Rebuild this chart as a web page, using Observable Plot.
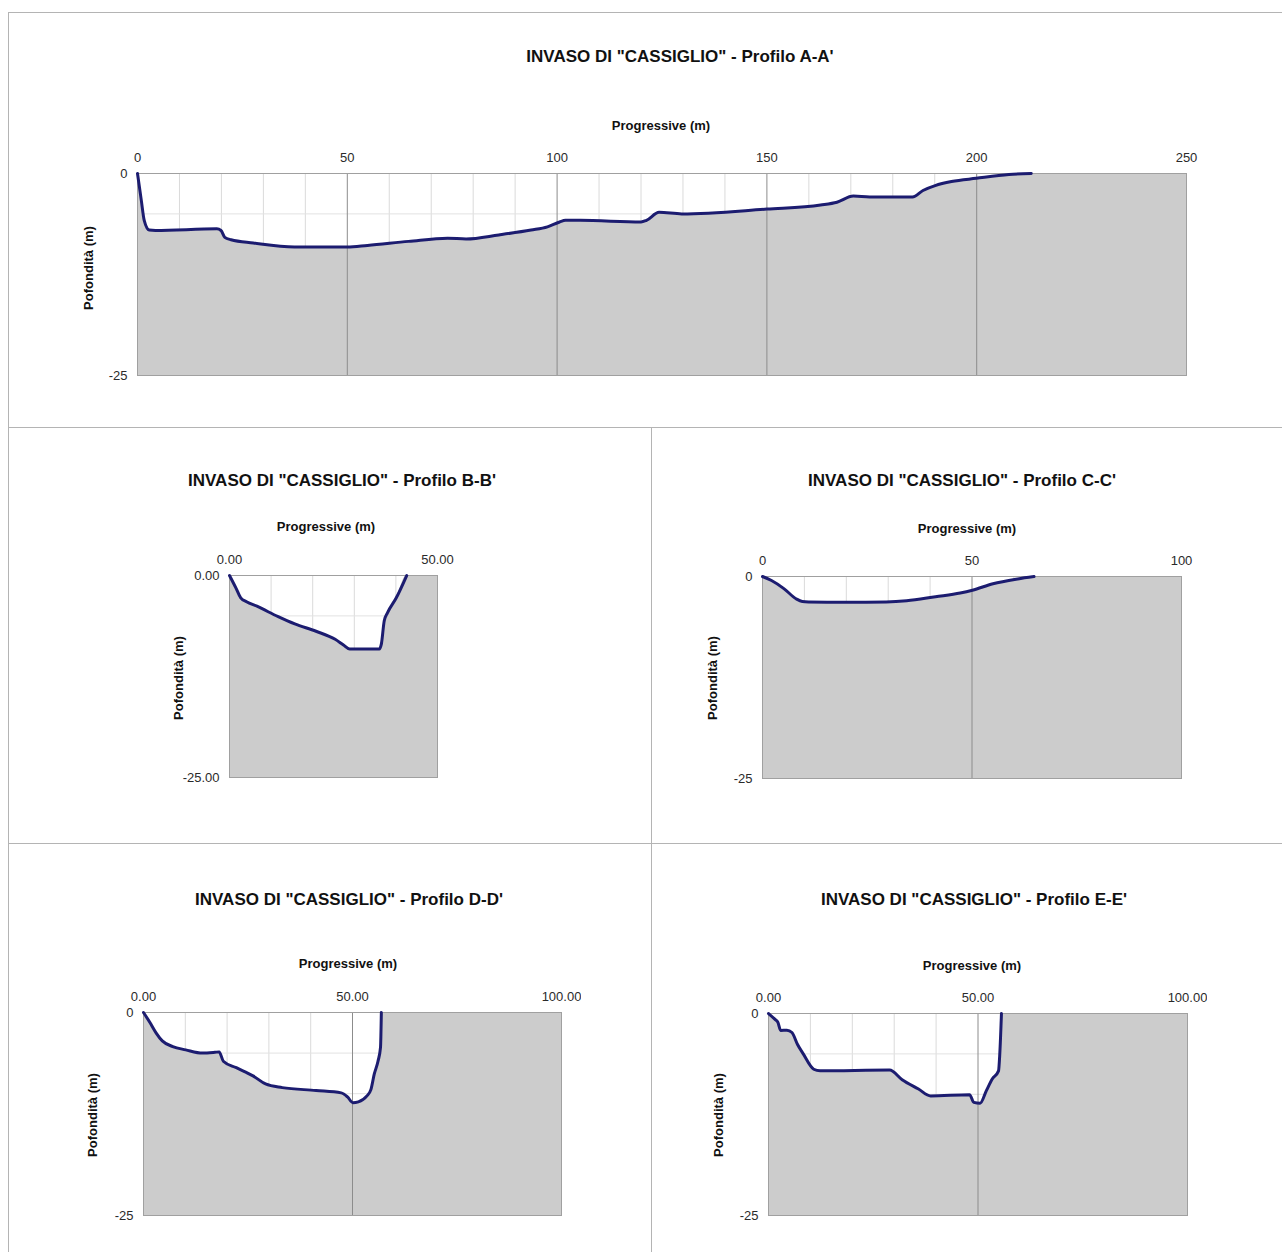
<!DOCTYPE html>
<html><head><meta charset="utf-8">
<script src="https://cdn.jsdelivr.net/npm/d3@7"></script>
<script src="https://cdn.jsdelivr.net/npm/@observablehq/plot@0.6"></script>
<style>
body{margin:0;background:#fff;}
#page{position:relative;width:1282px;height:1252px;font-family:"Liberation Sans",Arial,sans-serif;overflow:hidden;background:#fff}
.t{position:absolute;transform:translate(-50%,-50%);white-space:nowrap;font-weight:bold;color:#111}
.title{font-size:17px}
.ax{font-size:13px}
.yl{transform:translate(-50%,-50%) rotate(-90deg)}
.svgbox{position:absolute}
.ln{position:absolute;background:#b4b4b4}
</style></head>
<body><div id="page"></div>
<script>
// ---- data (progressive in m, depth in m) ----
const titles = [
  'INVASO DI "CASSIGLIO" - Profilo A-A\'',
  'INVASO DI "CASSIGLIO" - Profilo B-B\'',
  'INVASO DI "CASSIGLIO" - Profilo C-C\'',
  'INVASO DI "CASSIGLIO" - Profilo D-D\'',
  'INVASO DI "CASSIGLIO" - Profilo E-E\''
];
const xLabel = "Progressive (m)";
const yLabel = "Pofondità (m)";

const progA  = [0, 0.9, 1.6, 2.8, 4.3, 18.9, 19.9, 20.8, 22.3, 27.6, 37.4, 50, 54.8, 64.6, 73.9, 78.3, 86.1, 93.8, 97.7, 100.6, 102, 105.5, 120, 121.3, 124.3, 129.7, 150, 162.8, 166.7, 170.6, 174.5, 184.7, 187.2, 190.1, 194, 199.9, 207.7, 213];
const depthA = [0, -3.3, -5.8, -7.0, -7.05, -6.85, -7.05, -7.9, -8.2, -8.6, -9.1, -9.1, -8.9, -8.4, -8.0, -8.1, -7.6, -7.0, -6.6, -6.0, -5.8, -5.8, -6.0, -5.8, -4.8, -5.0, -4.4, -3.9, -3.55, -2.8, -2.9, -2.9, -2.1, -1.5, -1.0, -0.6, -0.13, 0];

const progB  = [0, 1.5, 2.7, 4.1, 6.6, 11.7, 15.7, 20.8, 25.4, 27.4, 28.9, 36, 36.5, 37.2, 38, 40.1, 42.6];
const depthB = [0, -1.5, -2.76, -3.25, -3.8, -5.1, -6.0, -6.9, -7.9, -8.6, -9.1, -9.1, -8.5, -5.6, -4.6, -2.76, 0];

const progC  = [0, 2.15, 5.1, 8.0, 9.5, 11.0, 19.8, 29.5, 34.4, 41.3, 47.2, 50.1, 55, 60.9, 64.8];
const depthC = [0, -0.5, -1.5, -2.75, -3.1, -3.15, -3.2, -3.15, -3.0, -2.5, -2.05, -1.7, -0.9, -0.3, 0];

const progD  = [0, 1.5, 3.0, 4.5, 7.0, 10.1, 14.1, 17.1, 18.1, 19.1, 22.2, 26.2, 29.2, 33.2, 41.3, 47.3, 48.8, 50.1, 51.4, 53.4, 54.4, 55.2, 56.1, 56.7, 56.9];
const depthD = [0, -1.2, -2.5, -3.5, -4.2, -4.6, -5.0, -4.9, -4.85, -6.0, -6.8, -7.8, -8.8, -9.25, -9.6, -9.9, -10.4, -11.1, -11.0, -10.3, -9.5, -7.6, -6.0, -4.3, 0];

const progE  = [0, 1.5, 2.25, 2.9, 4.4, 5.6, 6.9, 8.3, 10.8, 12.3, 28.9, 31.9, 35.8, 38.7, 48.0, 49.0, 50.5, 52.0, 53.4, 54.9, 55.2, 55.6];
const depthE = [0, -0.7, -1.1, -2.1, -2.06, -2.35, -3.8, -5.0, -6.9, -7.1, -7.0, -8.2, -9.35, -10.2, -10.05, -11.0, -11.1, -9.55, -8.1, -7.1, -5.0, 0];

// tick labels
const xTicksA = [0, 50, 100, 150, 200, 250];
const xTickLabelsA = ["0", "50", "100", "150", "200", "250"];
const xTicksB = [0, 50];
const xTickLabelsB = ["0.00", "50.00"];
const xTicksC = [0, 50, 100];
const xTickLabelsC = ["0", "50", "100"];
const xTicksDE = [0, 50, 100];
const xTickLabelsDE = ["0.00", "50.00", "100.00"];
const yTicks = [0, -25];
const yTickLabels = ["0", "-25"];
const yTickLabelsB = ["0.00", "-25.00"];

// ---- layout ----
const panels = [
  {prog: progA, depth: depthA, title: titles[0], xmax: 250, xt: xTicksA, xtl: xTickLabelsA, ytl: yTickLabels,
   box: [137, 1186, 173, 375], tpos: [680, 57], ppos: [661, 125], ypos: [88, 268]},
  {prog: progB, depth: depthB, title: titles[1], xmax: 50, xt: xTicksB, xtl: xTickLabelsB, ytl: yTickLabelsB,
   box: [229, 437, 575, 777], tpos: [342, 481], ppos: [326, 526], ypos: [178, 678]},
  {prog: progC, depth: depthC, title: titles[2], xmax: 100, xt: xTicksC, xtl: xTickLabelsC, ytl: yTickLabels,
   box: [762, 1181, 576, 778], tpos: [962, 481], ppos: [967, 528], ypos: [712, 678]},
  {prog: progD, depth: depthD, title: titles[3], xmax: 100, xt: xTicksDE, xtl: xTickLabelsDE, ytl: yTickLabels,
   box: [143, 561, 1012, 1215], tpos: [349, 900], ppos: [348, 963], ypos: [92, 1115]},
  {prog: progE, depth: depthE, title: titles[4], xmax: 100, xt: xTicksDE, xtl: xTickLabelsDE, ytl: yTickLabels,
   box: [768, 1187, 1013, 1215], tpos: [974, 900], ppos: [972, 965], ypos: [718, 1115]}
];

const page = document.getElementById("page");
function line(x, y, w, h) {
  const d = document.createElement("div");
  d.className = "ln";
  Object.assign(d.style, {left: x + "px", top: y + "px", width: w + "px", height: h + "px"});
  page.appendChild(d);
}
line(8, 12, 1274, 1); line(8, 427, 1274, 1); line(8, 843, 1274, 1);
line(8, 12, 1, 1240); line(651, 427, 1, 825);

function text(cls, str, x, y) {
  const d = document.createElement("div");
  d.className = "t " + cls;
  d.textContent = str;
  d.style.left = x + "px"; d.style.top = y + "px";
  page.appendChild(d);
}

const ML = 60, MT = 30, MR = 20, MB = 20;
for (const p of panels) {
  const [x0, x1, y0, y1] = p.box;
  const data = p.prog.map((x, i) => ({x, d: p.depth[i]}));
  // the ground fill continues at the water line up to the end of the axis
  const ground = data.concat([{x: p.xmax, d: 0}]);
  const minor = d3.range(10, p.xmax, 10).filter(v => v % 50 !== 0);
  const major = d3.range(50, p.xmax, 50);
  const chart = Plot.plot({
    width: (x1 - x0) + ML + MR,
    height: (y1 - y0) + MT + MB,
    marginLeft: ML, marginTop: MT, marginRight: MR, marginBottom: MB,
    style: {fontFamily: '"Liberation Sans", Arial, sans-serif', fontSize: "13px", color: "#2a2a2a", background: "transparent"},
    x: {domain: [0, p.xmax]},
    y: {domain: [-25, 0]},
    marks: [
      Plot.gridX(minor, {stroke: "#dadada", strokeOpacity: 1}),
      Plot.gridY([-5, -10, -15, -20], {stroke: "#e2e2e2", strokeOpacity: 1}),
      Plot.areaY(ground, {x: "x", y1: -25, y2: "d", fill: "#cccccc", curve: "monotone-x"}),
      Plot.gridX(major, {stroke: "#8c8c8c", strokeOpacity: 1}),
      Plot.frame({stroke: "#a0a0a0"}),
      Plot.line(data, {x: "x", y: "d", stroke: "#1c1c70", strokeWidth: 3, curve: "monotone-x"}),
      Plot.axisX({anchor: "top", ticks: p.xt, tickSize: 0, tickPadding: 12, label: null,
        tickFormat: v => p.xtl[p.xt.indexOf(v)]}),
      Plot.axisY({anchor: "left", ticks: yTicks, tickSize: 0, tickPadding: 10, label: null,
        tickFormat: v => p.ytl[yTicks.indexOf(v)]})
    ]
  });
  chart.classList.add("svgbox");
  chart.style.left = (x0 - ML) + "px";
  chart.style.top = (y0 - MT) + "px";
  page.appendChild(chart);
  text("title", p.title, p.tpos[0], p.tpos[1]);
  text("ax", xLabel, p.ppos[0], p.ppos[1]);
  text("ax yl", yLabel, p.ypos[0], p.ypos[1]);
}
</script>
</body></html>
